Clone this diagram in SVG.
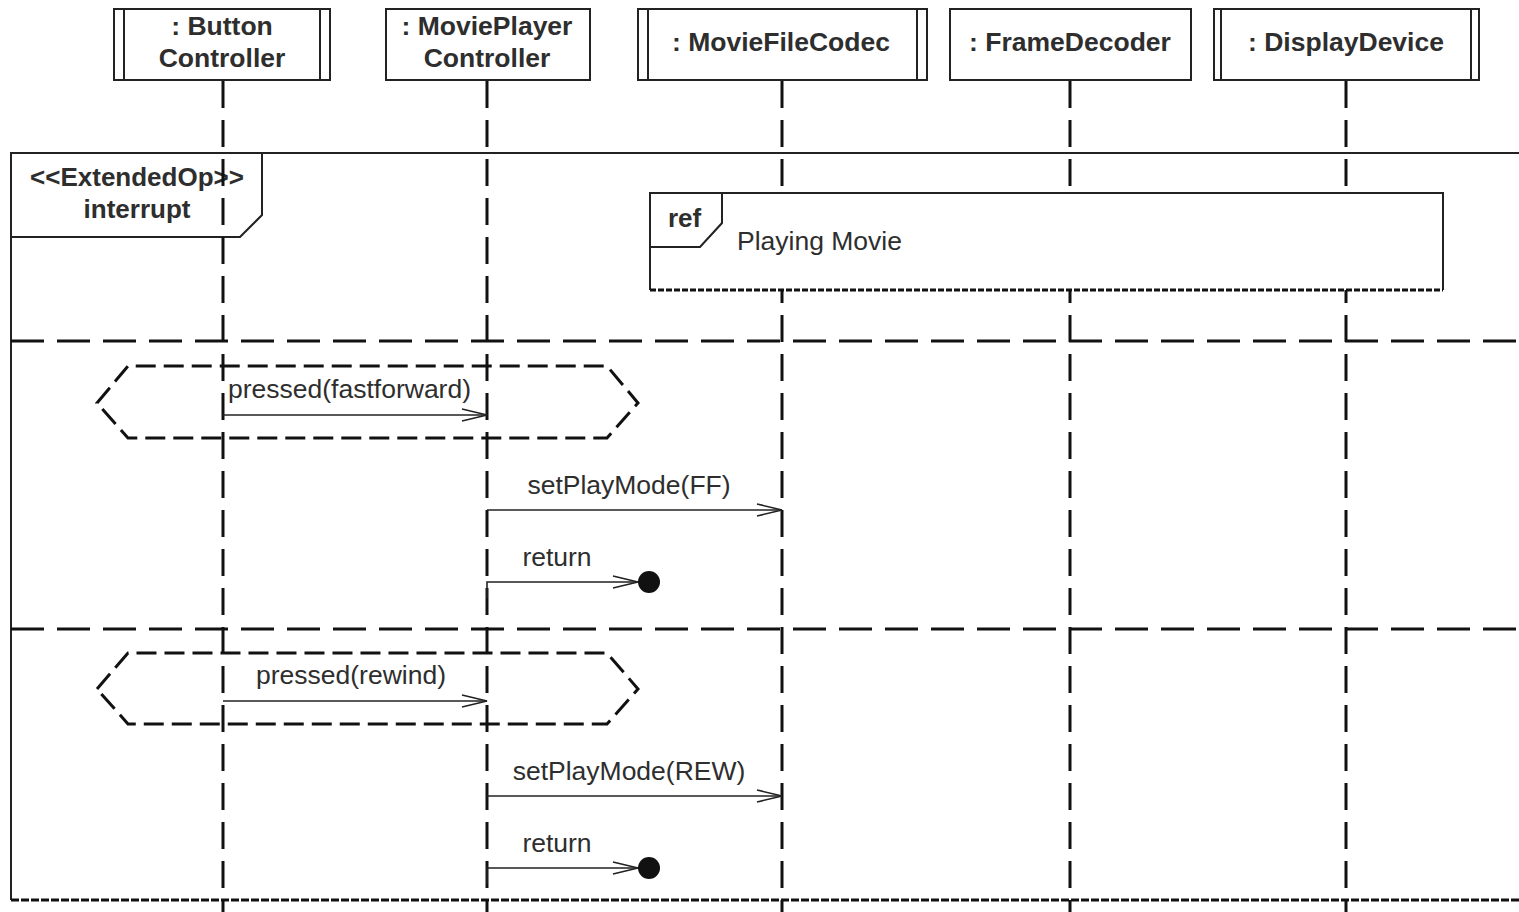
<svg xmlns="http://www.w3.org/2000/svg" width="1519" height="912" viewBox="0 0 1519 912">
  <style>
    .box { fill: #fff; stroke: #222; stroke-width: 2; }
    .thin { fill: none; stroke: #222; stroke-width: 2; }
    .life { fill: none; stroke: #111; stroke-width: 3; stroke-dasharray: 27 12; }
    .sep { fill: none; stroke: #111; stroke-width: 3; stroke-dasharray: 33 13; }
    .hex { fill: none; stroke: #111; stroke-width: 3; stroke-dasharray: 20 8; }
    .msg { fill: none; stroke: #222; stroke-width: 1.6; }
    .head { font-family: "Liberation Sans", Arial, sans-serif; font-size: 26.5px; font-weight: bold; fill: #2e2e2e; text-anchor: middle; }
    .lbl { font-family: "Liberation Sans", Arial, sans-serif; font-size: 26.5px; fill: #2e2e2e; }
    .frm { font-family: "Liberation Sans", Arial, sans-serif; font-size: 26px; font-weight: bold; fill: #2e2e2e; }
  </style>
  <defs>
    <marker id="open" markerWidth="30" markerHeight="16" refX="27" refY="8" orient="auto" markerUnits="userSpaceOnUse">
      <path d="M2,2 L27,8 L2,14" fill="none" stroke="#222" stroke-width="1.6"/>
    </marker>
  </defs>
  <rect width="1519" height="912" fill="#fff"/>

  <!-- interrupt fragment -->
  <g id="frame-interrupt">
    <path class="thin" d="M1519,153 L11,153 L11,900"/>
    <path d="M11,900 L1519,900" fill="none" stroke="#111" stroke-width="3" stroke-dasharray="8 2"/>
    <path class="thin" d="M11,237 L240,237 L262,215 L262,153"/>
    <text class="frm" x="137" y="186" text-anchor="middle">&lt;&lt;ExtendedOp&gt;&gt;</text>
    <text class="frm" x="137" y="218" text-anchor="middle">interrupt</text>
    <line class="sep" x1="11" y1="341" x2="1519" y2="341"/>
    <line class="sep" x1="11" y1="629" x2="1519" y2="629"/>
  </g>

  <!-- lifelines -->
  <g id="lifelines">
    <line class="life" x1="223" y1="81" x2="223" y2="912"/>
    <line class="life" x1="487" y1="81" x2="487" y2="912"/>
    <line class="life" x1="782" y1="81" x2="782" y2="912"/>
    <line class="life" x1="1070" y1="81" x2="1070" y2="912"/>
    <line class="life" x1="1346" y1="81" x2="1346" y2="912"/>
  </g>

  <!-- ref Playing Movie -->
  <g id="ref-playing-movie">
    <path d="M650,290 L650,193 L1443,193 L1443,290" class="box"/>
    <path d="M650,290 L1443,290" fill="none" stroke="#111" stroke-width="3" stroke-dasharray="6 2"/>
    <path class="thin" d="M650,247 L700,247 L722,223 L722,193"/>
    <text class="frm" x="668" y="227">ref</text>
    <text class="lbl" x="737" y="250">Playing Movie</text>
  </g>

  <!-- heads -->
  <g id="button-controller">
    <rect class="box" x="114" y="9" width="216" height="71"/>
    <line class="thin" x1="124" y1="9" x2="124" y2="80"/>
    <line class="thin" x1="320" y1="9" x2="320" y2="80"/>
    <text class="head" x="222" y="35">: Button</text>
    <text class="head" x="222" y="67">Controller</text>
  </g>
  <g id="movieplayer-controller">
    <rect class="box" x="386" y="9" width="204" height="71"/>
    <text class="head" x="487" y="35">: MoviePlayer</text>
    <text class="head" x="487" y="67">Controller</text>
  </g>
  <g id="moviefilecodec">
    <rect class="box" x="638" y="9" width="289" height="71"/>
    <line class="thin" x1="648" y1="9" x2="648" y2="80"/>
    <line class="thin" x1="917" y1="9" x2="917" y2="80"/>
    <text class="head" x="781" y="51">: MovieFileCodec</text>
  </g>
  <g id="framedecoder">
    <rect class="box" x="950" y="9" width="241" height="71"/>
    <text class="head" x="1070" y="51">: FrameDecoder</text>
  </g>
  <g id="displaydevice">
    <rect class="box" x="1214" y="9" width="265" height="71"/>
    <line class="thin" x1="1221" y1="9" x2="1221" y2="80"/>
    <line class="thin" x1="1471" y1="9" x2="1471" y2="80"/>
    <text class="head" x="1346" y="51">: DisplayDevice</text>
  </g>

  <!-- guarded regions -->
  <g id="region-fastforward">
    <path class="hex" d="M97,403 L128,366 L607,366 L638,403 L607,438 L128,438 Z"/>
  </g>
  <g id="region-rewind">
    <path class="hex" d="M97,689 L128,653 L607,653 L638,689 L607,724 L128,724 Z"/>
  </g>

  <!-- messages -->
  <g id="messages">
    <line class="msg" x1="223" y1="415" x2="487" y2="415" marker-end="url(#open)"/>
    <text class="lbl" x="228" y="398">pressed(fastforward)</text>

    <line class="msg" x1="487" y1="510" x2="782" y2="510" marker-end="url(#open)"/>
    <text class="lbl" x="629" y="494" text-anchor="middle">setPlayMode(FF)</text>

    <path class="msg" d="M487,598 L487,582 L638,582" marker-end="url(#open)"/>
    <circle cx="649" cy="582" r="11" fill="#111"/>
    <text class="lbl" x="557" y="566" text-anchor="middle">return</text>

    <line class="msg" x1="223" y1="701" x2="487" y2="701" marker-end="url(#open)"/>
    <text class="lbl" x="351" y="684" text-anchor="middle">pressed(rewind)</text>

    <line class="msg" x1="487" y1="796" x2="782" y2="796" marker-end="url(#open)"/>
    <text class="lbl" x="629" y="780" text-anchor="middle">setPlayMode(REW)</text>

    <path class="msg" d="M487,884 L487,868 L638,868" marker-end="url(#open)"/>
    <circle cx="649" cy="868" r="11" fill="#111"/>
    <text class="lbl" x="557" y="852" text-anchor="middle">return</text>
  </g>
</svg>
